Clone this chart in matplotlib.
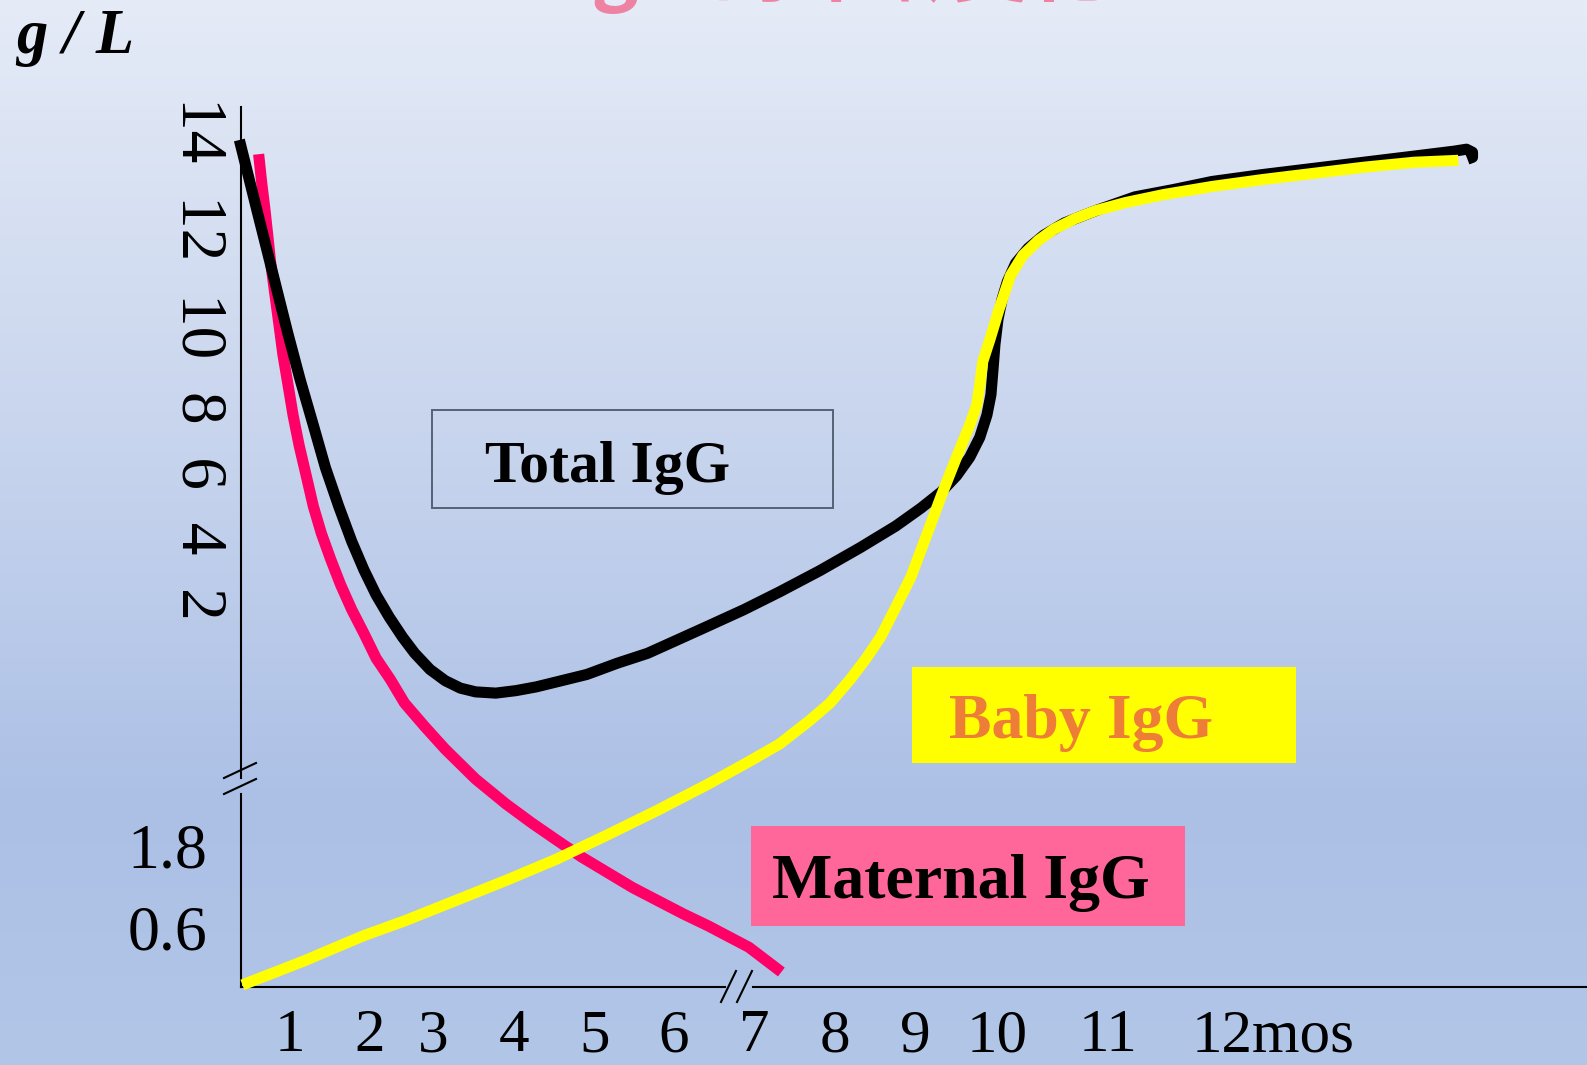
import numpy as np
import matplotlib

matplotlib.use("Agg")
import matplotlib.pyplot as plt
from matplotlib import transforms
from matplotlib.patches import Rectangle

W, H = 1587, 1065
SERIF = ["Liberation Serif", "DejaVu Serif"]

# IgG level (g/L) against age in months
total_months = [0.367, 0.468, 0.595, 0.722, 0.848, 0.975, 1.127, 1.291, 1.443, 1.608,
                1.772, 1.924, 2.097, 2.306, 2.516, 2.710, 2.952, 3.150, 3.338, 3.525,
                3.775, 4.025, 4.275, 4.588, 4.900, 5.282, 5.667, 6.051, 6.430, 6.873,
                7.313, 7.813, 8.316, 8.759, 9.074, 9.321, 9.506, 9.667, 9.790, 9.877,
                9.926, 9.951, 9.975, 10.009, 10.047, 10.093, 10.168, 10.280, 10.421,
                10.607, 10.888, 11.267, 11.648, 12.029, 12.505, 12.981, 13.457,
                13.933, 14.314, 14.429, 14.486, 14.486, 14.438]
total_igg = [13.87, 13.03, 11.97, 10.92, 9.87, 8.82, 7.63, 6.45, 5.34, 4.34,
             3.42, 2.68, 2.03, 1.983, 1.967, 1.954, 1.941, 1.932, 1.926, 1.923,
             1.922, 1.924, 1.927, 1.932, 1.937, 1.946, 1.954, 1.965, 1.976, 1.989,
             2.105, 2.66, 3.26, 3.82, 4.29, 4.71, 5.13, 5.61, 6.13, 6.71,
             7.24, 7.89, 8.55, 9.21, 9.74, 10.18, 10.66, 11.05, 11.39,
             11.71, 12.03, 12.39, 12.58, 12.79, 12.97, 13.13, 13.29,
             13.45, 13.58, 13.63, 13.55, 13.42, 13.37]

maternal_months = [0.608, 0.646, 0.684, 0.722, 0.759, 0.810, 0.861, 0.911, 0.975, 1.038,
                   1.114, 1.203, 1.291, 1.392, 1.506, 1.633, 1.772, 1.924, 2.097, 2.323,
                   2.548, 2.871, 3.150, 3.525, 3.900, 4.213, 4.525, 4.838, 5.154, 5.474,
                   5.795, 6.114, 6.430, 6.937, 7.338]
maternal_igg = [13.5, 12.76, 12.11, 11.39, 10.66, 9.87, 9.08, 8.29, 7.5, 6.71,
                5.92, 5.13, 4.34, 3.63, 2.97, 2.29, 1.989, 1.970, 1.950, 1.933,
                1.914, 1.895, 1.877, 1.853, 1.833, 1.818, 1.804, 1.622, 1.4, 1.178,
                0.985, 0.793, 0.615, 0.397, 0.150]

baby_months = [0.405, 0.785, 1.165, 1.544, 1.924, 2.548, 3.275, 3.900, 4.525, 5.154,
               5.795, 6.430, 6.937, 7.313, 7.688, 7.938, 8.190, 8.380, 8.570, 8.760,
               8.950, 9.136, 9.321, 9.506, 9.667, 9.753, 9.790, 9.827, 9.914, 10.019,
               10.121, 10.234, 10.374, 10.514, 10.701, 10.888, 11.171, 11.552, 12.029,
               12.505, 12.981, 13.457, 13.933, 14.352]
baby_igg = [0.021, 0.139, 0.257, 0.386, 0.514, 0.689, 0.985, 1.281, 1.593, 1.808,
            1.828, 1.849, 1.867, 1.881, 1.900, 1.914, 1.933, 1.949, 1.967, 1.991,
            2.5, 3.55, 4.61, 5.61, 6.45, 6.97, 7.5, 8.11, 8.68, 9.47,
            10.34, 10.87, 11.26, 11.55, 11.82, 12.03, 12.24, 12.45, 12.66,
            12.84, 13.0, 13.16, 13.29, 13.34]

month_ticks = [1, 2, 3, 4, 5, 6, 7, 8, 9, 10, 11, 12]
month_labels = ["1", "2", "3", "4", "5", "6", "7", "8", "9", "10", "11", "12mos"]
upper_labels = ["14", "12", "10", "8", "6", "4", "2"]
lower_ticks = [1.8, 0.6]

# hand-drawn axis: where each month / level sits, in pixels from the top-left corner
MONTH_KNOTS = np.array([-4, 1, 2, 3, 4, 5, 6, 7, 8, 9, 10, 11, 12, 17], dtype=float)
MONTH_PX = np.array([-110, 290, 370, 433, 514, 595, 674, 754, 835, 915, 997, 1108,
                     1209, 1739], dtype=float)
LEVEL_KNOTS = np.array([-2, 0, 0.6, 1.8, 2, 14, 18], dtype=float)
LEVEL_PX = np.array([1182, 987, 927, 845, 596, 135, -19], dtype=float)


def month_fwd(m):
    return np.interp(m, MONTH_KNOTS, MONTH_PX)


def month_inv(p):
    return np.interp(p, MONTH_PX, MONTH_KNOTS)


def level_fwd(v):
    return -np.interp(v, LEVEL_KNOTS, LEVEL_PX)


def level_inv(t):
    return np.interp(-np.asarray(t), LEVEL_PX[::-1], LEVEL_KNOTS[::-1])


fig = plt.figure(figsize=(W / 100, H / 100), dpi=100)

# slide background
stops = [0, 450, 800, H]
cols = np.array([[229, 235, 247], [199, 212, 237], [172, 192, 230], [178, 198, 232]]) / 255
rows = np.arange(H)
grad = np.stack([np.interp(rows, stops, cols[:, c]) for c in range(3)], axis=-1)
bg = fig.add_axes([0, 0, 1, 1], zorder=0)
bg.imshow(grad[:, None, :], aspect="auto", extent=[0, 1, 0, 1])
bg.axis("off")

ax = fig.add_axes([0, 0, 1, 1], zorder=1)
ax.set_xscale("function", functions=(month_fwd, month_inv))
ax.set_yscale("function", functions=(level_fwd, level_inv))
ax.set_axis_off()

px = transforms.Affine2D().scale(1, -1).translate(0, H)

line_kw = dict(lw=8, solid_capstyle="butt", solid_joinstyle="round")
ax.plot(maternal_months, maternal_igg, color="#FF0066", zorder=3, **line_kw)
ax.plot(total_months, total_igg, color="black", zorder=4, **line_kw)
ax.plot(baby_months, baby_igg, color="#FFFF00", zorder=5, **line_kw)

ax.set_xlim(month_inv(0), month_inv(W))
ax.set_ylim(level_inv(-H), level_inv(0))

# axes with break marks
axis_kw = dict(color="black", lw=1.5, transform=px, zorder=2)
ax.plot([241, 241], [107, 778], **axis_kw)
ax.plot([241, 241], [794, 987], **axis_kw)
ax.plot([224, 256], [778, 763], **axis_kw)
ax.plot([224, 256], [794, 779], **axis_kw)
ax.plot([241, 725], [987, 987], **axis_kw)
ax.plot([753, W], [987, 987], **axis_kw)
ax.plot([721, 736], [1002, 971], **axis_kw)
ax.plot([737, 752], [1002, 971], **axis_kw)

# tick labels
xlab_tf = transforms.blended_transform_factory(ax.transData, px)
for m, lab in zip(month_ticks, month_labels):
    if lab.endswith("mos"):
        tf = transforms.offset_copy(xlab_tf, fig=fig, x=-17, units="dots")
        ax.text(m, 1051, lab, transform=tf, ha="left", va="baseline",
                fontsize=44, family=SERIF)
    else:
        ax.text(m, 1051, lab, transform=xlab_tf, ha="center", va="baseline",
                fontsize=44, family=SERIF)

ylab_tf = transforms.blended_transform_factory(px, ax.transData)
for v in lower_ticks:
    ax.text(207, v, f"{v:.1f}", transform=ylab_tf, ha="right", va="center_baseline",
            fontsize=46, family=SERIF)

ax.text(198, 358, "  ".join(upper_labels), transform=px, rotation=270,
        ha="center", va="center", fontsize=47, family=SERIF)

ax.text(16, 53, "g / L", transform=px, ha="left", va="baseline", fontsize=45,
        family=SERIF, weight="bold", style="italic")

ax.text(565, -5, "IgG 的年龄变化", transform=px, ha="left", va="baseline",
        fontsize=57, family=["Noto Sans CJK SC", "DejaVu Sans"], weight="bold",
        color="#EE82A3")

# curve labels
ax.add_patch(Rectangle((432, 410), 401, 98, transform=px, fill=False,
                       edgecolor="#556175", lw=1.4, zorder=2))
ax.text(485, 482, "Total IgG", transform=px, ha="left", va="baseline",
        fontsize=43, family=SERIF, weight="bold", color="black", zorder=6)

ax.add_patch(Rectangle((912, 667), 384, 96, transform=px, facecolor="#FFFF00",
                       edgecolor="none", zorder=2))
ax.text(949, 738, "Baby IgG", transform=px, ha="left", va="baseline",
        fontsize=46, family=SERIF, weight="bold", color="#EE7D37", zorder=6)

ax.add_patch(Rectangle((751, 826), 434, 100, transform=px, facecolor="#FF6699",
                       edgecolor="none", zorder=2))
ax.text(772, 898, "Maternal IgG", transform=px, ha="left", va="baseline",
        fontsize=46, family=SERIF, weight="bold", color="black", zorder=6)

fig.savefig("out.png", dpi=100)
